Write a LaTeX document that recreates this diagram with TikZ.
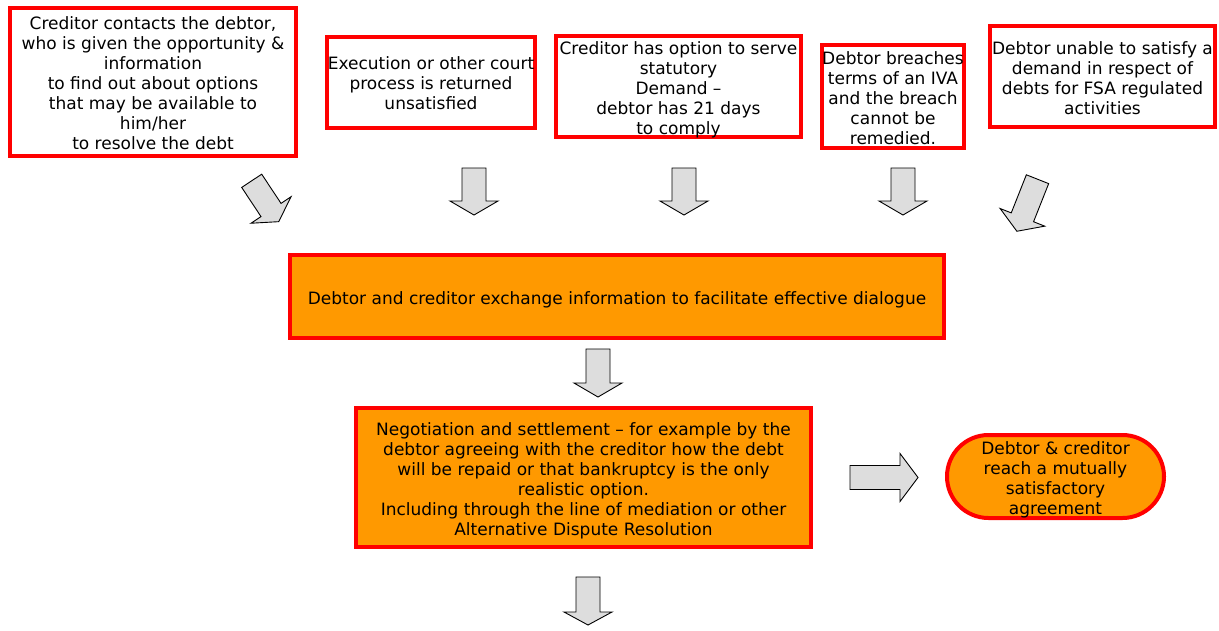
\documentclass[tikz,border=0pt]{standalone}
\usepackage{fontspec}
\setmainfont{DejaVu Sans}
\usetikzlibrary{shapes.misc}
\definecolor{boxred}{HTML}{FF0000}
\definecolor{boxorange}{HTML}{FF9900}
\definecolor{arrowgray}{HTML}{DDDDDD}

\tikzset{
  txt/.style={font=\fontsize{17}{20}\selectfont, align=center, text=black, inner sep=0pt},
  redbox/.style={draw=boxred, line width=4pt, inner sep=0pt},
  plainbox/.style={redbox, fill=white},
  orangebox/.style={redbox, fill=boxorange},
  arrowbody/.style={draw=black, fill=arrowgray, line width=0.9pt, line join=miter},
  % block arrow pointing along local +x: #1 = length, #2 = head length
  pics/barrow/.style 2 args={code={
    \draw[arrowbody] (0,-12) -- ({#1-#2},-12) -- ({#1-#2},-24) -- (#1,0)
      -- ({#1-#2},24) -- ({#1-#2},12) -- (0,12) -- cycle;
  }}
}

\begin{document}
\begin{tikzpicture}[x=1pt,y=-1pt]
\useasboundingbox[fill=white] (0,0) rectangle (1219,630);

% starting situations
\node[plainbox, minimum width=286pt, minimum height=148pt] (c1) at (153,82) {};
\node[txt] (c1t) at ([yshift=-1pt]c1.center)
  {Creditor contacts the debtor,\\who is given the opportunity \&\\information\\to find out about options\\that may be available to\\him/her\\to resolve the debt};
\node[plainbox, minimum width=208pt, minimum height=91pt] (c2) at (431,82.5) {};
\node[txt] (c2t) at ([yshift=-1pt]c2.center)
  {Execution or other court\\process is returned\\unsatisfied};
\node[plainbox, minimum width=245pt, minimum height=101pt] (c3) at (678.5,86.5) {};
\node[txt] (c3t) at ([yshift=-3pt]c3.center)
  {Creditor has option to serve\\statutory\\Demand --\\debtor has 21 days\\to comply};
\node[plainbox, minimum width=142pt, minimum height=103pt] (c4) at (893,96.5) {};
\node[txt] (c4t) at ([yshift=-2pt]c4.center)
  {Debtor breaches\\terms of an IVA\\and the breach\\cannot be\\remedied.};
\node[plainbox, minimum width=225pt, minimum height=101pt] (c5) at (1102.5,76.5) {};
\node[txt] (c5t) at ([yshift=-2pt]c5.center)
  {Debtor unable to satisfy a\\demand in respect of\\debts for FSA regulated\\activities};

% central steps
\node[orangebox, minimum width=654pt, minimum height=83pt] (ex) at (617,296.5) {};
\node[txt] (ext) at ([yshift=-3pt]ex.center)
  {Debtor and creditor exchange information to facilitate effective dialogue};
\node[orangebox, minimum width=455pt, minimum height=139pt] (neg) at (583.5,477.5) {};
\node[txt] (negt) at ([yshift=-3pt]neg.center)
  {Negotiation and settlement -- for example by the\\debtor agreeing with the creditor how the debt\\will be repaid or that bankruptcy is the only\\realistic option.\\Including through the line of mediation or other\\Alternative Dispute Resolution};
\node[orangebox, rounded rectangle, minimum width=217pt, minimum height=83pt] (agr) at (1055.5,476.5) {};
\node[txt] (agrt) at ([yshift=-3.5pt]agr.center)
  {Debtor \& creditor\\reach a mutually\\satisfactory\\agreement};

% block arrows
\pic[rotate=-56.5] at (251.7,180.8) {barrow={49}{14}};
\pic[rotate=-90] at (474,168) {barrow={47}{14}};
\pic[rotate=-90] at (684,168) {barrow={47}{14}};
\pic[rotate=-90] at (903,168) {barrow={47}{14}};
\pic[rotate=-111.6] at (1037.5,179.2) {barrow={56}{15}};
\pic[rotate=-90] at (598,349) {barrow={48}{14}};
\pic at (850,477.5) {barrow={68}{18}};
\pic[rotate=-90] at (588,577) {barrow={48}{13}};
\end{tikzpicture}
\end{document}
